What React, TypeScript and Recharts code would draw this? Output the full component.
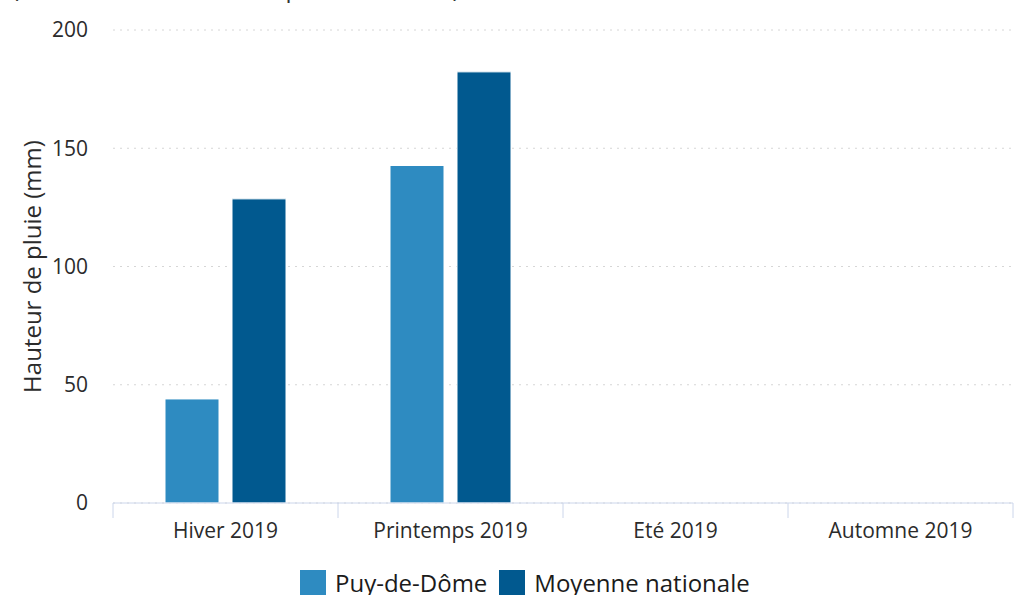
import React from 'react';
import { BarChart, Bar, XAxis, YAxis, CartesianGrid } from 'recharts';

// Seasonal rainfall, in mm
const seasons = ['Hiver 2019', 'Printemps 2019', 'Eté 2019', 'Automne 2019'];
const puyDeDome = [44, 142.7, null, null];
const moyenneNationale = [128.6, 182.3, null, null];
const yTicks = [0, 50, 100, 150, 200];

const series = [
  { key: 'puy', name: 'Puy-de-Dôme', color: '#2e8bc1' },
  { key: 'moyenne', name: 'Moyenne nationale', color: '#01598f' },
];

const data = seasons.map((season, i) => ({
  season,
  puy: puyDeDome[i],
  moyenne: moyenneNationale[i],
}));

const FONT = '"Open Sans", "DejaVu Sans", sans-serif';
const TICK_MARGIN = 20;

const YLabel = (props: any) => {
  const vb = props.viewBox || {};
  const cy = (vb.y ?? 0) + (vb.height ?? 0) / 2;
  return (
    <text
      x={31}
      y={cy}
      transform={`rotate(-90, 31, ${cy})`}
      textAnchor="middle"
      dominantBaseline="central"
      fill="#2b2b2b"
      fontSize={24}
      fontFamily={FONT}
    >
      Hauteur de pluie (mm)
    </text>
  );
};

// season label plus the tick marks on the band edges
const SeasonTick = (props: any) => {
  const { x, y, payload, index, visibleTicksCount } = props;
  const half = payload?.offset ?? 0;
  const axisY = y - TICK_MARGIN;
  const isLast = index === (visibleTicksCount ?? seasons.length) - 1;
  return (
    <g>
      <line x1={x - half} x2={x - half} y1={axisY} y2={axisY + 15} stroke="#ccd6eb" />
      {isLast && <line x1={x + half} x2={x + half} y1={axisY} y2={axisY + 15} stroke="#ccd6eb" />}
      <text x={x} y={y} dy="0.71em" textAnchor="middle" fill="#2b2b2b" fontSize={21} fontFamily={FONT}>
        {payload.value}
      </text>
    </g>
  );
};

const LegendBox = () => (
  <div
    style={{
      position: 'absolute',
      top: 566,
      left: 300,
      display: 'flex',
      alignItems: 'center',
      fontSize: 24,
      color: '#1b1b1b',
      whiteSpace: 'nowrap',
    }}
  >
    {series.map((s) => (
      <div key={s.key} style={{ display: 'flex', alignItems: 'center', marginRight: 12 }}>
        <div style={{ width: 26, height: 26, background: s.color, marginRight: 9 }} />
        <span>{s.name}</span>
      </div>
    ))}
  </div>
);

const App: React.FC = () => {
  return (
    <div
      style={{
        position: 'absolute',
        top: 0,
        left: 0,
        width: 1027,
        height: 595,
        overflow: 'hidden',
        background: '#ffffff',
        fontFamily: FONT,
      }}
    >
      <div
        style={{
          position: 'absolute',
          top: -29,
          left: 12,
          fontSize: 24,
          color: '#333333',
          whiteSpace: 'nowrap',
        }}
      >
        (Cumul des hauteurs de pluie en saison)
      </div>
      <BarChart
        width={1027}
        height={595}
        data={data}
        margin={{ top: 30, right: 14, left: 0, bottom: 52 }}
        barSize={54}
        barGap={13}
      >
        <CartesianGrid vertical={false} stroke="#d6d6d6" strokeDasharray="2 5" />
        <XAxis
          dataKey="season"
          height={40}
          axisLine={{ stroke: '#ccd6eb' }}
          tickLine={false}
          tickSize={0}
          tickMargin={TICK_MARGIN}
          tick={<SeasonTick />}
          interval={0}
        />
        <YAxis
          width={113}
          domain={[0, 200]}
          ticks={yTicks}
          axisLine={false}
          tickLine={false}
          tickSize={0}
          tickMargin={25}
          tick={{ fill: '#2b2b2b', fontSize: 21, fontFamily: FONT }}
          label={<YLabel />}
        />
        {series.map((s) => (
          <Bar
            key={s.key}
            dataKey={s.key}
            name={s.name}
            fill={s.color}
            stroke="#ffffff"
            strokeWidth={1}
            isAnimationActive={false}
          />
        ))}
      </BarChart>
      <LegendBox />
    </div>
  );
};

export default App;
